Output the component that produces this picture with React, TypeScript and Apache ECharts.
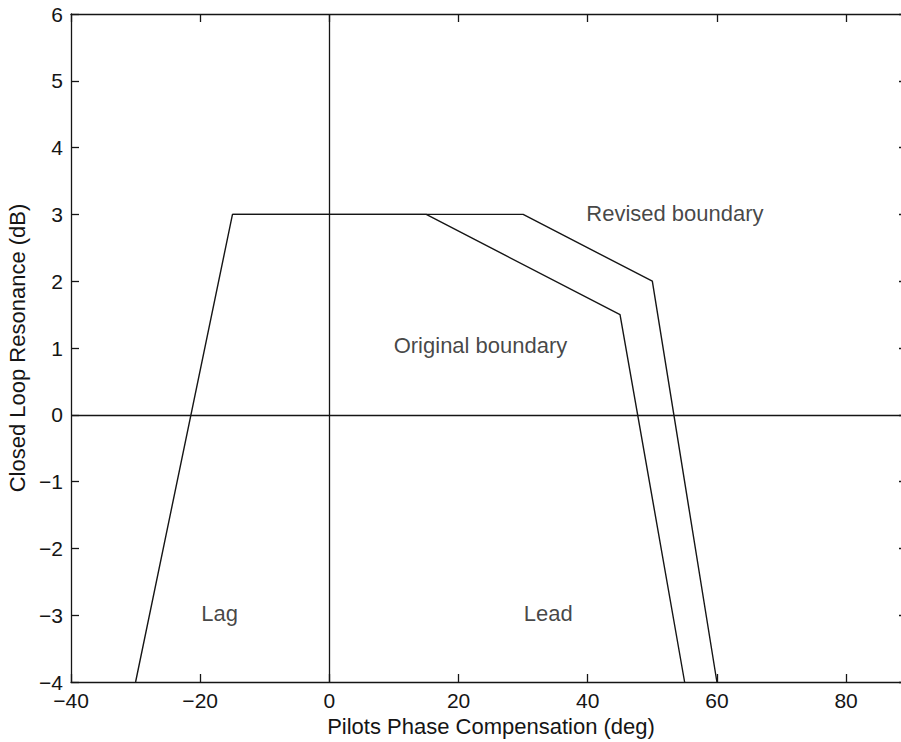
import React, { useEffect, useRef } from "react";
import * as echarts from "echarts";

// Boundary polylines: pilot phase compensation (deg) vs closed loop resonance (dB)
const originalX = [-30, -15, 15, 45, 55];
const originalY = [-4, 3, 3, 1.5, -4];
const revisedX = [-15, 30, 50, 60];
const revisedY = [3, 3, 2, -4];

// Region annotations placed in data coordinates
const noteNames = ["Revised boundary", "Original boundary", "Lag", "Lead"];
const noteX = [53.5, 23.4, -17.0, 33.9];
const noteY = [3.02, 1.03, -2.98, -2.98];

// visible x range ends just short of the frame's right edge
const xMin = -40;
const xMax = 88.5;
const xStep = 20;
const xTicks = [-40, -20, 0, 20, 40, 60, 80];
const yMin = -4;
const yMax = 6;
const yStep = 1;

const FONT = "Liberation Sans, Arial, Helvetica, sans-serif";
const INK = "#151515";

const minus = (v: number) => String(v).replace("-", "\u2212");

export default function App() {
  const ref = useRef<HTMLDivElement>(null);

  useEffect(() => {
    document.body.style.overflow = "hidden";
    document.documentElement.style.overflow = "hidden";
    const chart = echarts.init(ref.current!, null, { renderer: "svg" });

    const toPairs = (xs: number[], ys: number[]) => xs.map((x, i) => [x, ys[i]]);

    const axisLine = { show: true, onZero: false, lineStyle: { color: INK, width: 1.3 } };
    const tick = { show: true, inside: true, length: 8, lineStyle: { color: INK, width: 1.3 } };

    chart.setOption({
      animation: false,
      backgroundColor: "#fff",
      grid: {
        left: 71,
        right: 0,
        top: 14,
        bottom: 60,
        containLabel: false,
        outerBoundsMode: "none",
      },
      xAxis: [
        {
          type: "value",
          min: xMin,
          max: xMax,
          interval: xStep,
          position: "bottom",
          axisLine,
          axisTick: { ...tick, customValues: xTicks },
          splitLine: { show: false },
          axisLabel: {
            color: INK,
            fontFamily: FONT,
            fontSize: 21,
            margin: 8,
            showMaxLabel: false,
            formatter: (v: number) => minus(v),
          },
          name: "Pilots Phase Compensation (deg)",
          nameLocation: "middle",
          nameGap: 33,
          nameTextStyle: { color: INK, fontFamily: FONT, fontSize: 22, padding: [0, 0, 0, 10] },
        },
        {
          type: "value",
          min: xMin,
          max: xMax,
          interval: xStep,
          position: "top",
          axisLine,
          axisTick: { ...tick, customValues: xTicks },
          axisLabel: { show: false },
          splitLine: { show: false },
        },
      ],
      yAxis: [
        {
          type: "value",
          min: yMin,
          max: yMax,
          interval: yStep,
          position: "left",
          axisLine,
          axisTick: tick,
          splitLine: { show: false },
          axisLabel: {
            color: INK,
            fontFamily: FONT,
            fontSize: 21,
            margin: 8,
            formatter: (v: number) => minus(v),
          },
          name: "Closed Loop Resonance (dB)",
          nameLocation: "middle",
          nameGap: 36,
          nameTextStyle: { color: INK, fontFamily: FONT, fontSize: 22 },
        },
        {
          // right frame lies past the edge: only the tips of its ticks show
          type: "value",
          min: yMin,
          max: yMax,
          interval: yStep,
          position: "right",
          axisLine: { show: false, onZero: false },
          axisTick: { ...tick, length: 2 },
          axisLabel: { show: false },
          splitLine: { show: false },
        },
      ],
      series: [
        {
          type: "line",
          name: "Original boundary",
          data: toPairs(originalX, originalY),
          showSymbol: false,
          lineStyle: { color: INK, width: 1.4 },
          markLine: {
            silent: true,
            symbol: "none",
            label: { show: false },
            lineStyle: { color: INK, width: 1.3, type: "solid" },
            data: [{ xAxis: 0 }, { yAxis: 0 }],
          },
        },
        {
          type: "line",
          name: "Revised boundary",
          data: toPairs(revisedX, revisedY),
          showSymbol: false,
          lineStyle: { color: INK, width: 1.4 },
        },
        {
          type: "scatter",
          symbolSize: 0,
          data: noteNames.map((n, i) => ({ name: n, value: [noteX[i], noteY[i]] })),
          label: {
            show: true,
            position: "inside",
            formatter: (p: any) => p.name,
            color: INK,
            fontFamily: FONT,
            fontSize: 22,
          },
        },
      ],
    });

    return () => chart.dispose();
  }, []);

  return (
    <div
      ref={ref}
      style={{ position: "absolute", left: 0, top: 0, width: 901, height: 742, background: "#fff" }}
    />
  );
}
